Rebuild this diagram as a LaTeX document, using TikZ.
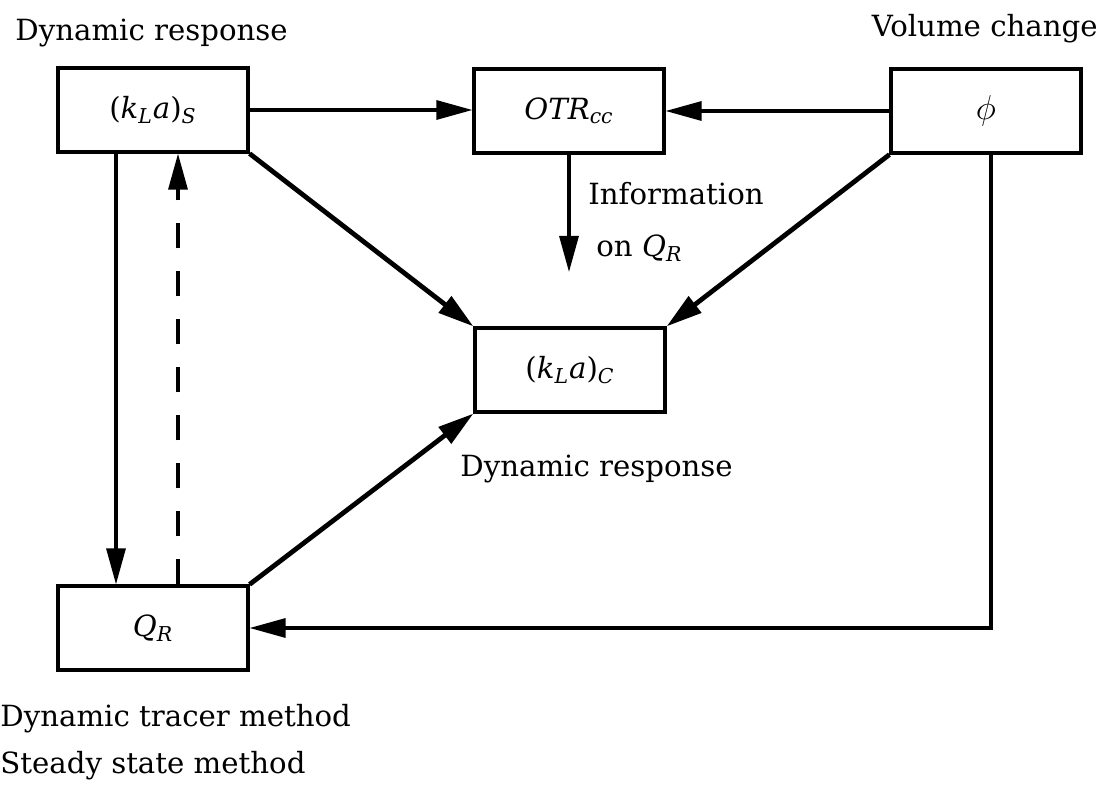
\documentclass[tikz,border=0pt]{standalone}
\usepackage{fontspec}
\setmainfont{DejaVu Serif}
\usetikzlibrary{arrows.meta}
\newcommand\lsub[1]{\textsubscript{\textit{#1}}}
\begin{document}
\begin{tikzpicture}[x=0.5pt,y=-0.5pt,
  box/.style={draw,line width=1.6pt,minimum width=95pt,minimum height=42pt,inner sep=0pt,font=\fontsize{14.6}{17}\selectfont},
  lbl/.style={inner sep=0pt,font=\fontsize{14.6}{17}\selectfont},
  arr/.style={line width=1.6pt,-{Triangle[length=18pt,width=9.5pt]}},
  thk/.style={line width=2.4pt,-{Triangle[length=18pt,width=10pt]}},
  dsh/.style={arr,dash pattern=on 12.5pt off 11.5pt}
]
\useasboundingbox (0,0) rectangle (1104,786);

% boxes
\node[box] (S)   at (153,110) {(\textit{k}\lsub{L}\textit{a})\lsub{S}};
\node[box] (OTR) at (569,111) {\textit{OTR}\lsub{cc}};
\node[box] (P)   at (986,111) {\fontsize{19}{20}\selectfont$\phi$};
\node[box] (C)   at (570,370) {(\textit{k}\lsub{L}\textit{a})\lsub{C}};
\node[box] (Q)   at (153,628) {\textit{Q}\lsub{R}};

% labels
\node[lbl,anchor=base west] (l1) at (15,41) {Dynamic response};
\node[lbl,anchor=base east] (l2) at (1098,37) {Volume change};
\node[lbl,anchor=base west] (l3) at (588,205) {Information};
\node[lbl,anchor=base west] (l4) at (596,257) {on \textit{Q}\lsub{R}};
\node[lbl,anchor=base west] (l5) at (460,476) {Dynamic response};
\node[lbl,anchor=base west] (l6) at (0,726) {Dynamic tracer method};
\node[lbl,anchor=base west] (l7) at (0,773) {Steady state method};

\coordinate (infoEnd) at (569,272);

% connectors
\draw[arr] (S.east) -- (S.east -| OTR.west);
\draw[arr] (P.west) -- (P.west -| OTR.east);
\draw[arr] (OTR.south) -- (infoEnd);
\draw[thk] (S.south east) -- (C.north west);
\draw[thk] (P.south west) -- (C.north east);
\draw[thk] (Q.north east) -- (C.south west);
\draw[arr] ([xshift=-18.5pt]S.south) -- ([xshift=-18.5pt]Q.north);
\draw[dsh] ([xshift=12.5pt]Q.north) -- ([xshift=12.5pt]S.south);
\draw[arr] ([xshift=2.5pt]P.south) -- ([xshift=2.5pt]P.south |- Q.east) -- (Q.east);
\end{tikzpicture}
\end{document}
